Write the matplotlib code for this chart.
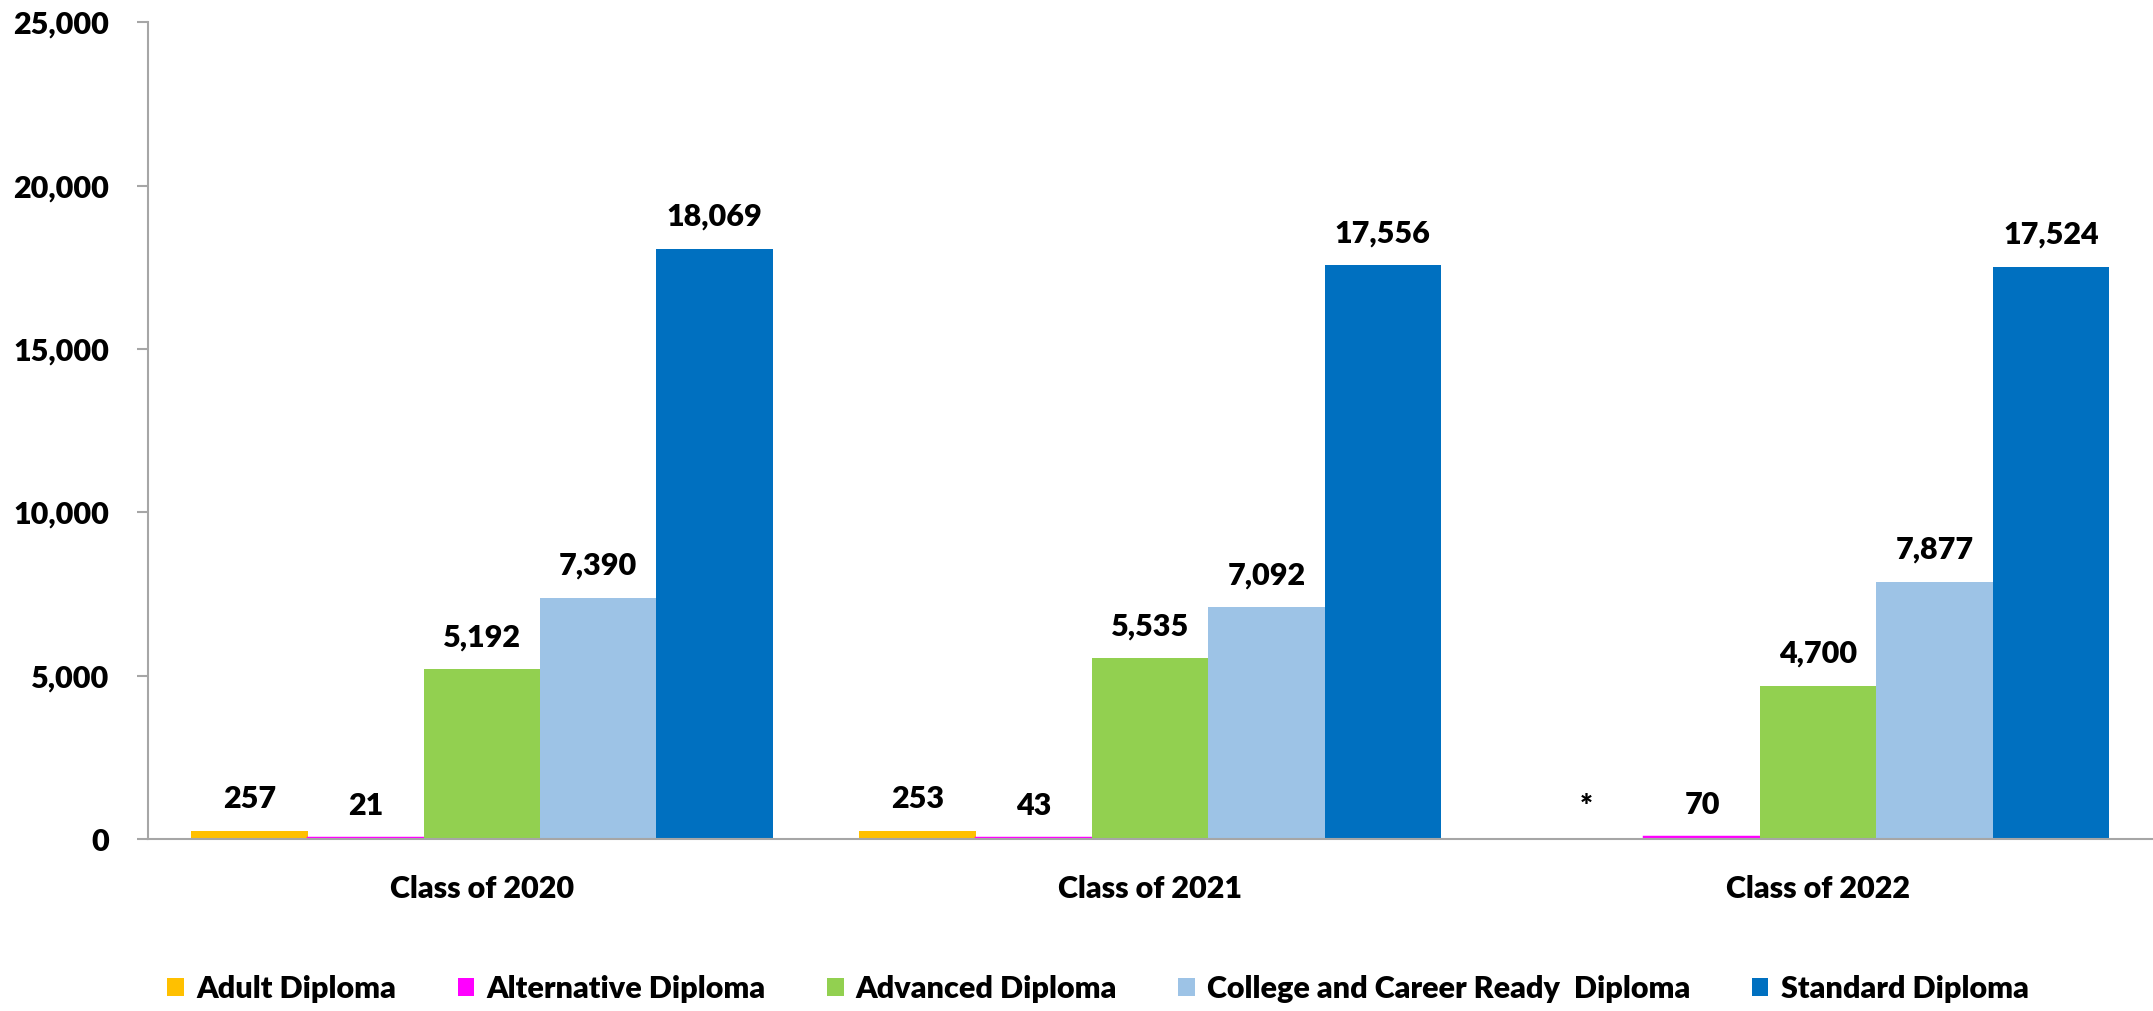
import matplotlib.pyplot as plt
import numpy as np
from matplotlib.patches import Patch
from matplotlib.ticker import FuncFormatter

plt.rcParams["font.family"] = ["Lato", "DejaVu Sans"]
plt.rcParams["font.weight"] = "heavy"

classes = ["Class of 2020", "Class of 2021", "Class of 2022"]
series_names = ["Adult Diploma", "Alternative Diploma", "Advanced Diploma",
                "College and Career Ready  Diploma", "Standard Diploma"]
adult = [257, 253, 0]
alternative = [21, 43, 70]
advanced = [5192, 5535, 4700]
college_ready = [7390, 7092, 7877]
standard = [18069, 17556, 17524]
# 2022 adult count was suppressed in the source
adult_labels = ["257", "253", "*"]

colors = ["#FFC000", "#FF00FF", "#92D050", "#9DC3E6", "#0070C0"]
series = [adult, alternative, advanced, college_ready, standard]

fig = plt.figure(figsize=(21.53, 10.11), dpi=100)
ax = fig.add_axes([0.0687, 0.170, 0.931, 0.808])

x = np.arange(len(classes))
width = 0.174
for i, (vals, col) in enumerate(zip(series, colors)):
    pos = x + (i - 2) * width
    # tiny counts still get a visible sliver, as in the original
    lw = 2.5 if i == 1 else 0
    ax.bar(pos, vals, width, color=col, edgecolor=col, linewidth=lw)
    for j, v in enumerate(vals):
        if i == 0:
            txt = adult_labels[j]
        else:
            txt = f"{v:,}"
        ax.annotate(txt, (pos[j], v), xytext=(0, 13), textcoords="offset points",
                    ha="center", va="bottom", fontsize=22, fontweight="heavy")

ax.set_xlim(-0.5, 2.5)
ax.set_ylim(0, 25000)
ax.set_yticks(np.arange(0, 25001, 5000))
ax.yaxis.set_major_formatter(FuncFormatter(lambda v, p: f"{int(v):,}"))
ax.set_xticks(x)
ax.set_xticklabels(classes)
ax.tick_params(axis="x", length=0, pad=26, labelsize=22)
ax.tick_params(axis="y", length=8, width=1.5, color="#A6A6A6", pad=20, labelsize=22)
for lab in ax.get_yticklabels() + ax.get_xticklabels():
    lab.set_fontweight("heavy")

for s in ["top", "right"]:
    ax.spines[s].set_visible(False)
for s in ["left", "bottom"]:
    ax.spines[s].set_color("#A6A6A6")
    ax.spines[s].set_linewidth(1.5)

handles = [Patch(facecolor=c, label=n) for c, n in zip(colors, series_names)]
fig.legend(handles=handles, loc="center", bbox_to_anchor=(0.51, 0.022), ncol=5,
           frameon=False, prop={"size": 22, "weight": "heavy"},
           handlelength=0.55, handleheight=0.55,
           handletextpad=0.4, columnspacing=2.0)

fig.savefig("out.png", dpi=100)
